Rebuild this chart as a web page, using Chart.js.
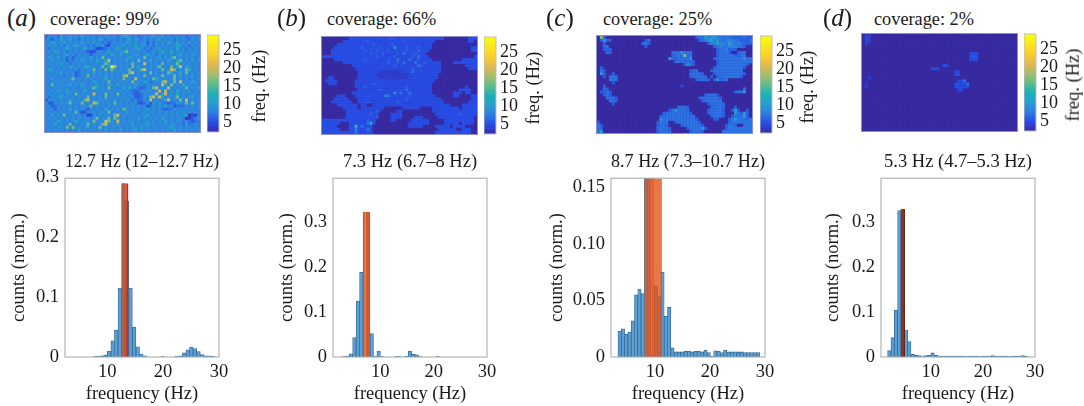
<!DOCTYPE html>
<html>
<head>
<meta charset="utf-8">
<script src="https://cdn.jsdelivr.net/npm/chart.js@4"></script>
<style>
  html, body { margin: 0; padding: 0; background: #fff; }
  body { position: relative; width: 1084px; height: 406px; overflow: hidden; font-family: "Liberation Serif", serif; color: #1a1a1a; }
  canvas { position: absolute; }
  .txt { position: absolute; white-space: nowrap; line-height: 1; }
</style>
</head>
<body>
<script>
// histogram bins (Hz, normalised counts)
const binsA = [7.77, 8.41, 9.05, 9.69, 10.33, 10.97, 11.61, 12.25, 12.89, 13.53, 14.17, 14.81, 15.45, 16.09, 16.73, 19.93, 22.49, 23.13, 23.77, 24.41, 25.05, 25.69, 26.33, 26.97, 27.61, 28.25, 28.89];
const countsA = [0.0005, 0.001, 0.002, 0.003, 0.01, 0.027, 0.045, 0.115, 0.289, 0.26, 0.115, 0.05, 0.017, 0.005, 0.002, 0.0005, 0.001, 0.002, 0.007, 0.012, 0.016, 0.014, 0.009, 0.004, 0.002, 0.002, 0.001];

const binsB = [3.19, 3.84, 4.49, 5.14, 5.79, 6.44, 7.09, 7.74, 8.39, 9.04, 9.69, 10.34, 12.94, 13.59, 14.89, 15.54, 16.19, 16.84, 17.49, 20.74];
const countsB = [0.001, 0.002, 0.007, 0.043, 0.124, 0.188, 0.322, 0.322, 0.052, 0.002, 0.013, 0.001, 0.001, 0.001, 0.002, 0.013, 0.006, 0.005, 0.001, 0.001];

const binsC = [3.57, 4.17, 4.77, 5.37, 5.97, 6.57, 7.17, 7.77, 8.37, 8.97, 9.57, 10.17, 10.77, 11.37, 11.97, 12.57, 13.17, 13.77, 14.37, 14.97, 15.57, 16.17, 16.77, 17.37, 17.97, 18.57, 19.17, 19.77, 20.37, 20.97, 21.57, 22.17, 22.77, 23.37, 23.97, 24.57, 25.17, 25.77, 26.37, 26.97, 27.57, 28.17, 28.77];
const countsC = [0.023, 0.025, 0.02, 0.022, 0.032, 0.055, 0.06, 0.056, 0.2, 0.2, 0.002, 0.0625, 0.054, 0.075, 0.036, 0.044, 0.008, 0.0045, 0.0045, 0.0045, 0.005, 0.005, 0.0045, 0.005, 0.005, 0.0045, 0.006, 0.004, 0.0005, 0.0055, 0.005, 0.004, 0.006, 0.0045, 0.0045, 0.0045, 0.0045, 0.0045, 0.004, 0.004, 0.004, 0.004, 0.004];

const binsD = [2.04, 2.68, 3.32, 3.96, 4.6, 5.24, 5.88, 6.52, 7.16, 7.8, 8.44, 9.08, 9.72, 10.36, 11.0, 11.64, 12.28, 12.92, 13.56, 14.2, 14.84, 15.48, 16.12, 16.76, 17.4, 18.04, 18.68, 19.32, 19.96, 20.6, 21.24, 21.88, 22.52, 23.16, 23.8, 24.44, 25.08, 25.72, 26.36, 27.0, 27.64, 28.28];
const countsD = [0.014, 0.043, 0.104, 0.325, 0.328, 0.06, 0.034, 0.006, 0.004, 0.003, 0.001, 0.003, 0.004, 0.009, 0.004, 0.002, 0.002, 0.002, 0.002, 0.002, 0.002, 0.002, 0.002, 0.001, 0.002, 0.002, 0.002, 0.001, 0.002, 0.002, 0.002, 0.003, 0.002, 0.002, 0.002, 0.002, 0.001, 0.002, 0.002, 0.002, 0.003, 0.002];

const xTicks = [10, 20, 30];
const xTickLabels = ["10", "20", "30"];
const yTicksA = [0, 0.1, 0.2, 0.3];
const yTicksB = [0, 0.1, 0.2, 0.3];
const yTicksC = [0, 0.05, 0.1, 0.15];
const yTicksD = [0, 0.1, 0.2, 0.3];
const yLabelsA = ["0", "0.1", "0.2", "0.3"];
const yLabelsC = ["0", "0.05", "0.10", "0.15"];

const titles = ["12.7 Hz (12–12.7 Hz)", "7.3 Hz (6.7–8 Hz)", "8.7 Hz (7.3–10.7 Hz)", "5.3 Hz (4.7–5.3 Hz)"];
const coverage = ["coverage: 99%", "coverage: 66%", "coverage: 25%", "coverage: 2%"];
const panelLetters = ["a", "b", "c", "d"];

// colorbar
const cbLevels = [2.5, 3, 3.5, 4, 4.5, 5, 5.5, 6, 6.5, 7, 7.5, 8, 8.5, 9, 9.5, 10, 10.5, 11, 11.5, 12, 12.5, 13, 13.5, 14, 14.5, 15, 15.5, 16, 16.5, 17, 17.5, 18, 18.5, 19, 19.5, 20, 20.5, 21, 21.5, 22, 22.5, 23, 23.5, 24, 24.5, 25, 25.5, 26, 26.5, 27, 27.5, 28, 28.5, 29];
const cbTicks = [5, 10, 15, 20, 25];

// frequency maps, 52 x 32 cells, one base-36 digit per cell = frequency in Hz
const mapA = [
  "79897b89a898c9989798998979ab98978989a89a898898978989",
  "89698a98b897989898b979887979b8a9797989b8989798987a89",
  "98b989a89898b898c8979689898b98989a6979898b98a898b898",
  "898a897a89b98979798a659889a898c8997979898989ba897989",
  "9798989b98989b8985567989b98989ab979789a89898b8979898",
  "898ba8979898986558988c8989bg89898978989b98c898989898",
  "9898989b89798986898 98b98c8989a989b8979898989b898a98",
  "8a98c8979698898b898g89898989b9898g8989a898bg89898989",
  "98b898969798b9898b98ck89898c898g898c89898b98cg898b89",
  "89898b89798989898989gb8989898g898k89898g8989g8989898",
  "98989898b9898bc8989g8bqk89898g8b898989g898g8bk8b9898",
  "8ba8989898979898g898g8g98989g898gk89898g89kg898gb898",
  "98989b8989679898c89898989898gk89898g89898gb89c8g8989",
  "89898979896798g89898b89898gk89898g89898g898g8c898b89",
  "98b898989g8989898989c89898g898k89898gb98989g89898989",
  "89898a8989898988b9898g8989898g898b97898gk98g8k898b98",
  "98g89898b898b9898c898b98c89898b89798989kb8g898c89898",
  "8989898989889 89gb898g8989b8c8976798gk898k89898g898b",
  "9898b98c89898c898989898989898767989989k8k898b8989898",
  "89898989 8g89898k898g898g8989766798 9k8bk898c8989898",
  "97989b89898988g89898g89898988966798gk9kb8989g8989b89",
  "69898989b9898gk898989 8b89898796798k8989bk898g8k8989",
  "96698989g898g898kg89898g898988965796989876779 8g8g89",
  "8967989898989 8g898989898989898989579898b89677798989",
  "98969898b89898698988b89898g9898989b89897677989898989",
  "8989898998g8569898998g89898b8989898998989898989898989",
  "98b898g8998989459898 98gk8989898 9b898989898989c3548",
  "89898989898989 89g898g8g98989 8b8989898b98989 834689",
  "9898b98989b98998g898kg98k8989 8989 89898b8989 797678",
  "898c8989g89898g8989gk898b9898b8989b898989899887b7898",
  "98989 8g8g8989b898g89899898989 8b8989 8989b98989 898",
  "89898989898c89899898b8989b8989b8989 8989898b8989898"
].map(row => row.split(" ").join("9"));
const mapB = [
  "2222222225555555555555565555555555555555522222222555",
  "2222222555555556555555555556555555555522222222222552",
  "2222255555555555565555565555555555555222222222222222",
  "2222555555555655555655559555655565555222222222222255",
  "2225555555555565556555655555655565552222222222222255",
  "2225555555555555655565555657555655522222222222222222",
  "5555555555555555556555556555556575552222222222222225",
  "2222555555555565555555655755575565555222222222255555",
  "2222222555555555555555655657555755655555222255555555",
  "2222222222555555555555556555555576555555222222225555",
  "2222222222255555555555555555556555555555222222222555",
  "2222222222225555555444444445557555555555222222222222",
  "2222222222225555554444444444455555555552222222222222",
  "2255222222225555555444444444455555555552222222222222",
  "2555522222255555555555555555555555555522222222222222",
  "2255522222255555565555555555555555555222222222222222",
  "2222222222255565555555555555655555555222222222225222",
  "2222222222225555555655555555755555555222222222555522",
  "2222222222555555555555559575575555555222222255525522",
  "2222255522255556555559755555565555555522222255222255",
  "2222555552225555555555555555655555555555222222222255",
  "2225555555225556555555555655555555555555522222222555",
  "2222255555552552255555555555555555555555555222255555",
  "2222222555552555555552222225555552222555555555255555",
  "2222222255555555556522222552222222222555555555555555",
  "2222222255555555655222255552222222222255555555655555",
  "2222222255555555556222255552222555222225555555555552",
  "5555555555555556552222255222225555552222255555555552",
  "5555552225555557b52222222222255555552222255555255552",
  "55555222255e575552222222222225555522225555525555222",
  "5555552225585557522222222222222222222225555552255522",
  "5555555555575555522222222222222222222255555555555522"
];
const mapC = [
  "2h6222222222222222222222222222222677a8aa877776666766",
  "26a6622222222222672222222222222222678ab8a77888776667",
  "2262222222222227762222222222222222222688a887a8787666",
  "2267222222222222622222222222222222222226787788877622",
  "2266622222222222222222222222222222222222677866622222",
  "2227622222222222222222222777a77722222222677762267722",
  "22222222222222222222222226777h7722222222677777667722",
  "222222222222222222222222a767777a22222226777777777a77",
  "2222222222222222222222222277777762222222677777777777",
  "222222222222222222222222222226a76222222267777777776",
  "2622222222222222222222222222222222222226777777777622",
  "2762222222222222222222222222222677222267777777777222",
  "2a62262222222222222222222222222777762226777777777622",
  "2262777222222222222222222222222677777262677777776222",
  "2222777222222222222222222222222226777626a67722222222",
  "2222262222222222222222222222222222222222222222222222",
  "2262222222222222222222222222522222222222222222222222",
  "2276222222222222222222222222222222222222222222222722",
  "2667622222222222222222222222222222222222222222677a22",
  "2267622222222222222222222222222222226777622222222222",
  "2227776222222222222222222222222222677777762222222222",
  "2222776222222222222222222222222222267777772222222222",
  "2222262222222222222222222222222222222677777222222222",
  "2222222222222222222222222227776222222267776222622222",
  "22222222222222222222222267a7777222222677776226a62262",
  "2222222222222222222222677777777622222677776222a76a62",
  "2222222222222222222226777777777772222267776226777a62",
  "222222222222222222222a777777777776222226622267a77767",
  "6222222222222222222267772267777777622222222267777777",
  "7622222222222222222267762222677777762222222677622777",
  "76222222222222222222777762222267777a6222222677777777",
  "7a22222222222222222267777222222677762222227777777777"
];
const mapD = [
  "2442222222222222222222222222222222222222222222222222",
  "2542222222222222222222222222222222222222222222222222",
  "2442222222222222222222222222222222222222222222222222",
  "2422222222222222222222222222222222222222222222222222",
  "2222222222222222222222222222222222222222222222222222",
  "2222222222222222222222222222222222222222222222222222",
  "2222222222222222222222222222222222225552222222222222",
  "2222222222222222222222222222222222225652222222222222",
  "2222222222222222222222222222222222225552222222222222",
  "2222222222222222222222222222222222222222222222222222",
  "2222222222222222222222222225522222222222222222222222",
  "2222222222222222222222255522222222222222222222222222",
  "2222222222222222222222222222222552222222222222222222",
  "2222222222222222222222222222222552222222222222222222",
  "2242222222222222222222222222222222222222222222222222",
  "2222222222222222222222222222222255722222222222222222",
  "2422222222222222222222222222222555572222222222222222",
  "2422222222222222222222222222222555552222222222222222",
  "2222222222222222222222222222222255222222222222222222",
  "2222222222222222222222222222222222222222222222222222",
  "2222222222222222222222222222222222222222222222222222",
  "2222222222222222222222222222222222222222222222222222",
  "2222222222222222222222222222222222222222222222222222",
  "2222222222222222222222222222222222222222222222222222",
  "2222222222222222222222222222222222222222222222222222",
  "2222222222222222222222222222222222222222222222222222",
  "2222222222222222222222222222222222222222222222222222",
  "2222222222222222222222222222222222222222222222222222",
  "2222222222222222222222222222222222222222222222222222",
  "2222222222222222222222222222222222222222222222222222",
  "2222222222222222222222222222222222222222222222222222",
  "2222222222222222222222222222222222222222222222222222"
];

// parula-like colormap
const parulaStops = [[56, 42, 160], [40, 75, 228], [45, 125, 225], [40, 158, 208], [28, 177, 180], [95, 189, 140], [165, 190, 107], [225, 185, 82], [252, 206, 46], [250, 230, 30], [249, 251, 14]];

const fontFamily = '"Liberation Serif", serif';
const textColor = "#1a1a1a";
const fontSize = 18.5;
const cbMin = 2.2, cbMax = 29.2;

function parula(v) {
  const t = Math.min(1, Math.max(0, (v - cbMin) / (cbMax - cbMin))) * (parulaStops.length - 1);
  const i = Math.min(parulaStops.length - 2, Math.floor(t));
  const f = t - i;
  const c = parulaStops[i].map((p, k) => Math.round(p + (parulaStops[i + 1][k] - p) * f));
  return `rgb(${c[0]},${c[1]},${c[2]})`;
}

function addCanvas(left, top, width, height) {
  const c = document.createElement("canvas");
  c.width = width;
  c.height = height;
  c.style.left = left + "px";
  c.style.top = top + "px";
  c.style.width = width + "px";
  c.style.height = height + "px";
  document.body.appendChild(c);
  return c;
}

function addText(html, left, cy, size, extra) {
  const d = document.createElement("div");
  d.className = "txt";
  d.innerHTML = html;
  d.style.left = left + "px";
  d.style.top = cy + "px";
  d.style.fontSize = size + "px";
  d.style.transform = extra || "translateY(-50%)";
  document.body.appendChild(d);
}

// plain frame round the plot area, only for charts that ask for one
const boxOutline = {
  id: "boxOutline",
  afterDraw(chart, args, opts) {
    if (!opts.stroke) return;
    const a = chart.chartArea, ctx = chart.ctx;
    ctx.save();
    ctx.strokeStyle = opts.stroke;
    ctx.lineWidth = 1;
    ctx.strokeRect(a.left, a.top, a.right - a.left, a.bottom - a.top);
    ctx.restore();
  }
};
Chart.register(boxOutline);

function renderHist(cfg) {
  const width = cfg.gap + 154 + 14;
  const canvas = addCanvas(cfg.left - cfg.gap, 150, width, 256);
  new Chart(canvas, {
    type: "bar",
    data: {
      datasets: [
        {
          type: "line", order: 0, data: [{ x: cfg.markX, y: 0 }, { x: cfg.markX, y: cfg.top }],
          borderColor: cfg.markColor, borderWidth: cfg.markWidth, pointRadius: 0, fill: false
        },
        {
          type: "line", order: 1, data: [{ x: cfg.band[0], y: cfg.top }, { x: cfg.band[1], y: cfg.top }],
          backgroundColor: cfg.bandColor, borderWidth: 0, pointRadius: 0, fill: "origin"
        },
        {
          order: 2, data: cfg.bins.map((b, i) => ({ x: b, y: cfg.counts[i] })),
          backgroundColor: "#5a9fd6", borderColor: "#34688f", borderWidth: 0.8,
          barPercentage: 1, categoryPercentage: 1
        }
      ]
    },
    options: {
      responsive: false,
      animation: false,
      layout: { padding: { top: 0, right: 14, bottom: 1, left: 0 } },
      plugins: {
        legend: { display: false },
        tooltip: { enabled: false },
        title: {
          display: true, text: cfg.title, fullSize: false, color: textColor,
          font: { family: fontFamily, size: fontSize, weight: "normal" },
          padding: { top: 1, bottom: 5 }
        },
        boxOutline: { stroke: "#a6a6a6" }
      },
      scales: {
        x: {
          type: "linear", min: cfg.xMin, max: 30, offset: false,
          grid: { display: false, drawTicks: false }, border: { display: false },
          afterBuildTicks: s => { s.ticks = xTicks.map(v => ({ value: v })); },
          afterFit: s => { s.height = 48; },
          ticks: {
            autoSkip: false, maxRotation: 0, padding: 4, color: textColor,
            font: { family: fontFamily, size: fontSize },
            callback: (v, i) => xTickLabels[i]
          },
          title: { display: true, text: "frequency (Hz)", color: textColor, padding: 0, font: { family: fontFamily, size: fontSize } }
        },
        y: {
          min: 0, max: cfg.yMax,
          grid: { display: false, drawTicks: false }, border: { display: false },
          afterBuildTicks: s => { s.ticks = cfg.yTicks.map(v => ({ value: v })); },
          afterFit: s => { s.width = cfg.gap; },
          ticks: {
            autoSkip: false, padding: 6, color: textColor,
            font: { family: fontFamily, size: fontSize },
            callback: (v, i) => cfg.yLabels[i]
          },
          title: { display: true, text: "counts (norm.)", color: textColor, padding: 0, font: { family: fontFamily, size: fontSize } }
        }
      }
    }
  });
}

function renderMap(rows, left, top, width, height, base) {
  const points = [], colors = [];
  rows.forEach((row, r) => {
    row.split("").forEach((ch, c) => {
      points.push({ x: c, y: r });
      colors.push(parula(parseInt(ch, 36)));
    });
  });
  const canvas = addCanvas(left, top, width, height);
  canvas.style.background = base;
  canvas.style.outline = "1px solid #8d8dd2";
  canvas.style.filter = "blur(0.6px)";
  new Chart(canvas, {
    type: "scatter",
    data: { datasets: [{ data: points, pointStyle: "rect", pointRadius: 2.3, pointBorderWidth: 0, backgroundColor: colors }] },
    options: {
      responsive: false,
      animation: false,
      layout: { padding: 0, autoPadding: false },
      plugins: { legend: { display: false }, tooltip: { enabled: false } },
      scales: {
        x: { type: "linear", min: -0.5, max: 51.5, display: false },
        y: { type: "linear", min: -0.5, max: 31.5, reverse: true, display: false }
      }
    }
  });
}

function renderColorbar(left, top, height) {
  const pad = 24;
  const canvas = addCanvas(left, top - pad, 50, height + pad * 2);
  new Chart(canvas, {
    type: "bar",
    data: {
      datasets: [{
        data: cbLevels.map(v => ({ x: 1, y: v })),
        backgroundColor: cbLevels.map(parula),
        barPercentage: 1, categoryPercentage: 1
      }]
    },
    options: {
      indexAxis: "y",
      responsive: false,
      animation: false,
      layout: { padding: { top: pad, bottom: pad, left: 0, right: 0 }, autoPadding: false },
      plugins: { legend: { display: false }, tooltip: { enabled: false }, boxOutline: { stroke: "#bdbdbd" } },
      scales: {
        x: { type: "linear", min: 0, max: 1, display: false },
        y: {
          type: "linear", position: "right", min: cbMin, max: cbMax, offset: false,
          grid: { display: false, drawTicks: false }, border: { display: false },
          afterBuildTicks: s => { s.ticks = cbTicks.map(v => ({ value: v })); },
          afterFit: s => { s.width = 38; },
          ticks: { autoSkip: false, padding: 4, color: textColor, font: { family: fontFamily, size: 18 } }
        }
      }
    }
  });
}

function renderTopRow(i, cfg) {
  addText(`(<i>${panelLetters[i]}</i>)`, cfg.letterX, 17, 25);
  addText(coverage[i], cfg.covX, 19, 18.3);
  renderMap(cfg.rows, cfg.mapX, cfg.mapY, 155, 97, cfg.base);
  renderColorbar(cfg.cbX, cfg.mapY, 97);
  addText("freq. (Hz)", cfg.freqX, cfg.mapY + 51, 18.5, "translate(-50%,-50%) rotate(-90deg)");
}

renderTopRow(0, { rows: mapA, letterX: 7, covX: 50, mapX: 45, mapY: 35, cbX: 207, freqX: 259, base: "#3d8fd8" });
renderTopRow(1, { rows: mapB, letterX: 277, covX: 327, mapX: 322, mapY: 37, cbX: 484, freqX: 533, base: "#382aa0" });
renderTopRow(2, { rows: mapC, letterX: 546, covX: 603, mapX: 597, mapY: 36, cbX: 760, freqX: 807, base: "#382aa0" });
renderTopRow(3, { rows: mapD, letterX: 823, covX: 874, mapX: 862, mapY: 34, cbX: 1024, freqX: 1073, base: "#382aa0" });

renderHist({ left: 65, gap: 57, title: titles[0], bins: binsA, counts: countsA, xMin: 2.44, yMax: 0.298, yTicks: yTicksA, yLabels: yLabelsA, top: 0.289, band: [12.56, 13.55], bandColor: "rgba(205,80,30,0.78)", markX: 13.6, markColor: "#e41a1c", markWidth: 1.6 });
renderHist({ left: 333, gap: 57, title: titles[1], bins: binsB, counts: countsB, xMin: 1.13, yMax: 0.397, yTicks: yTicksB, yLabels: yLabelsA, top: 0.322, band: [6.75, 8.07], bandColor: "rgba(225,80,30,0.88)", markX: 7.2, markColor: "#f08040", markWidth: 1.6 });
renderHist({ left: 611, gap: 65, title: titles[2], bins: binsC, counts: countsC, xMin: 2, yMax: 0.158, yTicks: yTicksC, yLabels: yLabelsC, top: 0.158, band: [8.08, 11.26], bandColor: "rgba(225,85,25,0.8)", markX: 9.6, markColor: "#f05a28", markWidth: 2 });
renderHist({ left: 881, gap: 59, title: titles[3], bins: binsD, counts: countsD, xMin: 0.45, yMax: 0.397, yTicks: yTicksD, yLabels: yLabelsA, top: 0.328, band: [4.25, 5], bandColor: "rgba(150,40,15,0.92)", markX: 4.95, markColor: "#5e2414", markWidth: 1 });
</script>
</body>
</html>
